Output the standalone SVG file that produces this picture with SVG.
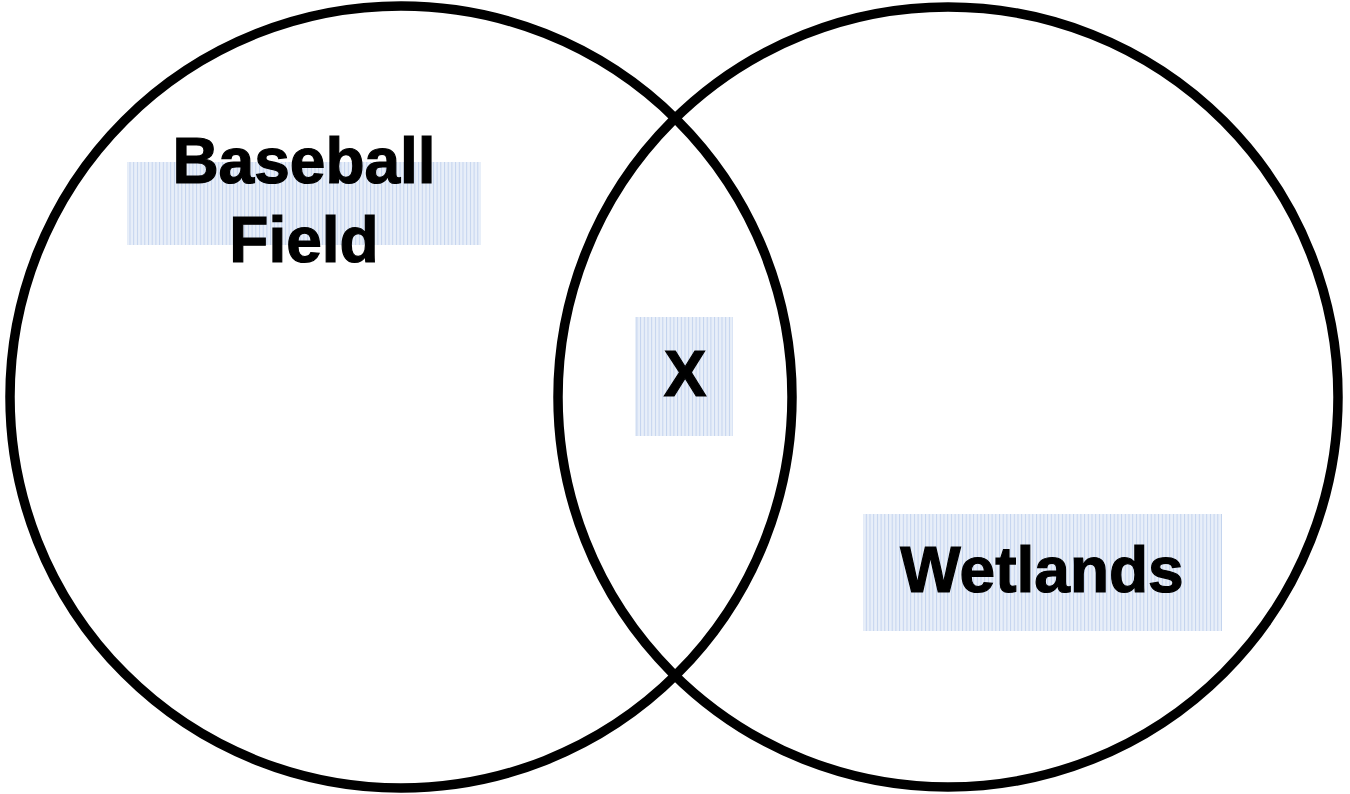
<svg xmlns="http://www.w3.org/2000/svg" width="1350" height="794" viewBox="0 0 1350 794">
<style>
.c{fill:none;stroke:#000;stroke-width:9.5}
.t{font-family:"Liberation Sans",Arial,sans-serif;font-weight:bold;font-size:64px;fill:#000;stroke:#000;stroke-width:1.2;text-anchor:middle}
.bg{fill:url(#hatch)}
</style>
<defs>
<pattern id="hatch" width="3.7" height="10" patternUnits="userSpaceOnUse">
<rect width="3.7" height="10" fill="#e8eff9"/>
<rect x="0" width="1" height="10" fill="#c3d3ee"/>
</pattern>
</defs>
<rect width="1350" height="794" fill="#fff"/>
<g id="left-circle"><circle class="c" cx="401" cy="397" r="391"/></g>
<g id="right-circle"><circle class="c" cx="948" cy="397" r="390"/></g>
<g id="baseball-field">
<rect class="bg" x="127" y="162" width="354" height="83"/>
<text class="t" x="304" y="183">Baseball</text>
<text class="t" x="304" y="262">Field</text>
</g>
<g id="x">
<rect class="bg" x="635" y="317" width="98" height="119"/>
<text class="t" x="685" y="396">X</text>
</g>
<g id="wetlands">
<rect class="bg" x="863" y="514" width="359" height="117"/>
<text class="t" x="1042" y="592">Wetlands</text>
</g>
<g id="connectors"/>
</svg>
